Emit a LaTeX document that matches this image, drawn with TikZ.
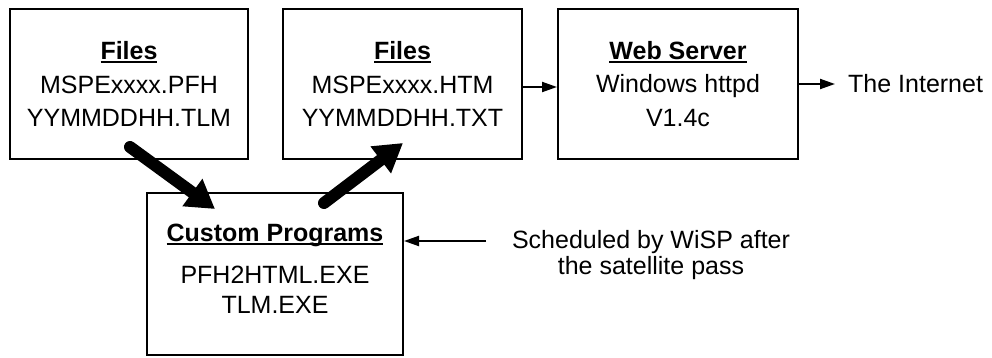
\documentclass[tikz,border=0pt]{standalone}
\usepackage{fontspec}
\setmainfont{Liberation Sans}
\usetikzlibrary{arrows.meta}
\newcommand{\myul}[1]{\setbox0=\hbox{#1}\rlap{\rule[-3.5pt]{\wd0}{2.2pt}}\box0}
\begin{document}
\begin{tikzpicture}[x=1pt,y=-1pt,
  filebox/.style={draw, line width=2pt, minimum height=150pt, align=center,
    inner sep=0pt, font=\fontsize{25}{33.5}\selectfont},
  plain/.style={align=center, inner sep=0pt, font=\fontsize{25}{30}\selectfont},
  bigarrow/.style={line width=12pt, line cap=round, -{Triangle[length=28pt,width=32pt]}},
  thinarrow/.style={line width=2pt, -{Triangle[length=15pt,width=10pt]}}]
\useasboundingbox (0,0) rectangle (992,358);
\fill[white] (0,0) rectangle (992,358);

\node[filebox, minimum width=238pt] (b1) at (129,84)
  {\myul{\textbf{Files}}\\MSPExxxx.PFH\\YYMMDDHH.TLM};
\node[filebox, minimum width=239pt] (b2) at (402.5,84)
  {\myul{\textbf{Files}}\\MSPExxxx.HTM\\YYMMDDHH.TXT};
\node[filebox, minimum width=240pt] (b3) at (678,84)
  {\myul{\textbf{Web Server}}\\Windows httpd\\V1.4c};
\node[filebox, minimum width=256pt, minimum height=162pt] (b4) at (275,274) {};
\node[plain] (t4) at (275,269)
  {\myul{\textbf{Custom Programs}}\\[12pt]PFH2HTML.EXE\\TLM.EXE};

\node[plain, anchor=west] (inet) at (848,84) {The Internet};
\node[plain, font=\fontsize{25}{26}\selectfont] (sched) at (651,255)
  {Scheduled by WiSP after\\the satellite pass};

\coordinate (a1s) at (130,147);
\coordinate (a1e) at (215,209);
\coordinate (a2s) at (324,203);
\coordinate (a2e) at (403,143);
\coordinate (sarr) at (486,241);

\draw[bigarrow] (a1s) -- (a1e);
\draw[bigarrow] (a2s) -- (a2e);

\draw[thinarrow] ([yshift=-3pt]b2.east) -- ([yshift=-3pt]b3.west);
\draw[thinarrow] (b3.east) -- ([xshift=-13pt]inet.west);
\draw[thinarrow] (sarr) -- (sarr -| b4.east);
\end{tikzpicture}
\end{document}
